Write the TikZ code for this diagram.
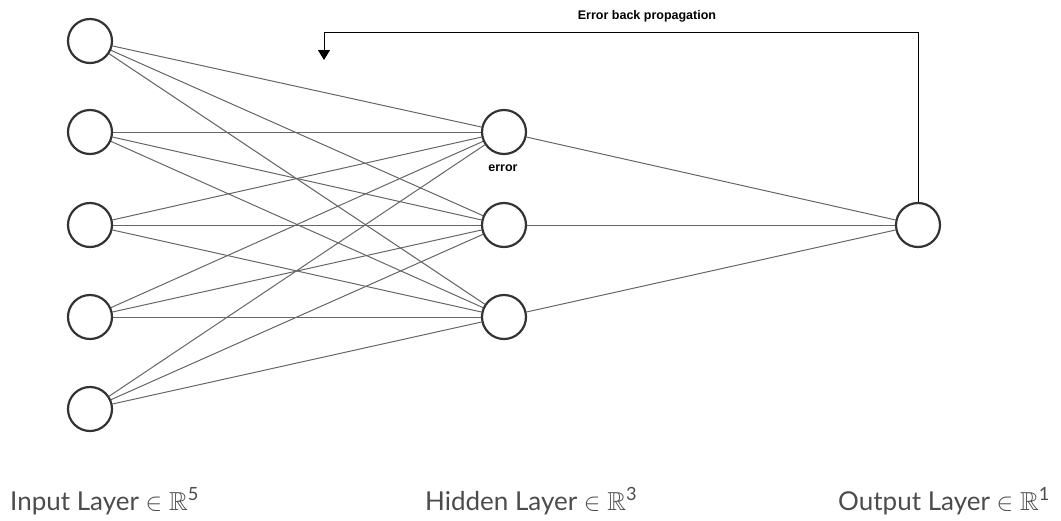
\documentclass[tikz,border=0pt]{standalone}
\usepackage{amssymb}
\usepackage{fontspec}
\setsansfont{Lato}
\newfontfamily\labelfont{Liberation Sans}
\usetikzlibrary{arrows.meta,backgrounds}
\begin{document}
\begin{tikzpicture}[x=1pt,y=-1pt,
  neuron/.style={circle,draw=black!80,line width=2.2pt,minimum size=44pt,inner sep=0pt,fill=white},
  link/.style={draw=black!60,line width=1pt},
  feedback/.style={line width=1pt,-{Triangle[width=12pt,length=10pt]}},
  layerlabel/.style={anchor=base west,inner sep=0pt,text=black!70,font=\sffamily\fontsize{26}{30}\selectfont},
  smalllabel/.style={font=\labelfont\bfseries\fontsize{12.5}{14}\selectfont,inner sep=0pt}]
\useasboundingbox (0,0) rectangle (1061,520);
% input layer
\foreach \i/\y in {1/41,2/132,3/225,4/317,5/409}
  \node[neuron] (in\i) at (90,\y) {};
% hidden layer
\foreach \j/\y in {1/132,2/225,3/317}
  \node[neuron] (hid\j) at (504,\y) {};
% output layer
\node[neuron] (out) at (918,225) {};
% fully connected links, kept behind the neurons
\begin{scope}[on background layer]
\foreach \i in {1,...,5}
  \foreach \j in {1,2,3}
    \draw[link] (in\i) -- (hid\j);
\foreach \j in {1,2,3}
  \draw[link] (hid\j) -- (out);
\end{scope}
% error feedback path
\coordinate (corner) at (324,32);
\coordinate (back) at (324,60);
\draw[feedback] (out.north) |- (corner) -- (back);
\node[smalllabel] (bplabel) at (647,16) {Error back propagation};
\node[smalllabel] (errlabel) at (503,168) {error};
% layer captions
\node[layerlabel] (inlabel) at (10,510) {Input Layer $\in\mathbb{R}$\textsuperscript{5}};
\node[layerlabel] (hidlabel) at (425,510) {Hidden Layer $\in\mathbb{R}$\textsuperscript{3}};
\node[layerlabel] (outlabel) at (838,510) {Output Layer $\in\mathbb{R}$\textsuperscript{1}};
\end{tikzpicture}
\end{document}
